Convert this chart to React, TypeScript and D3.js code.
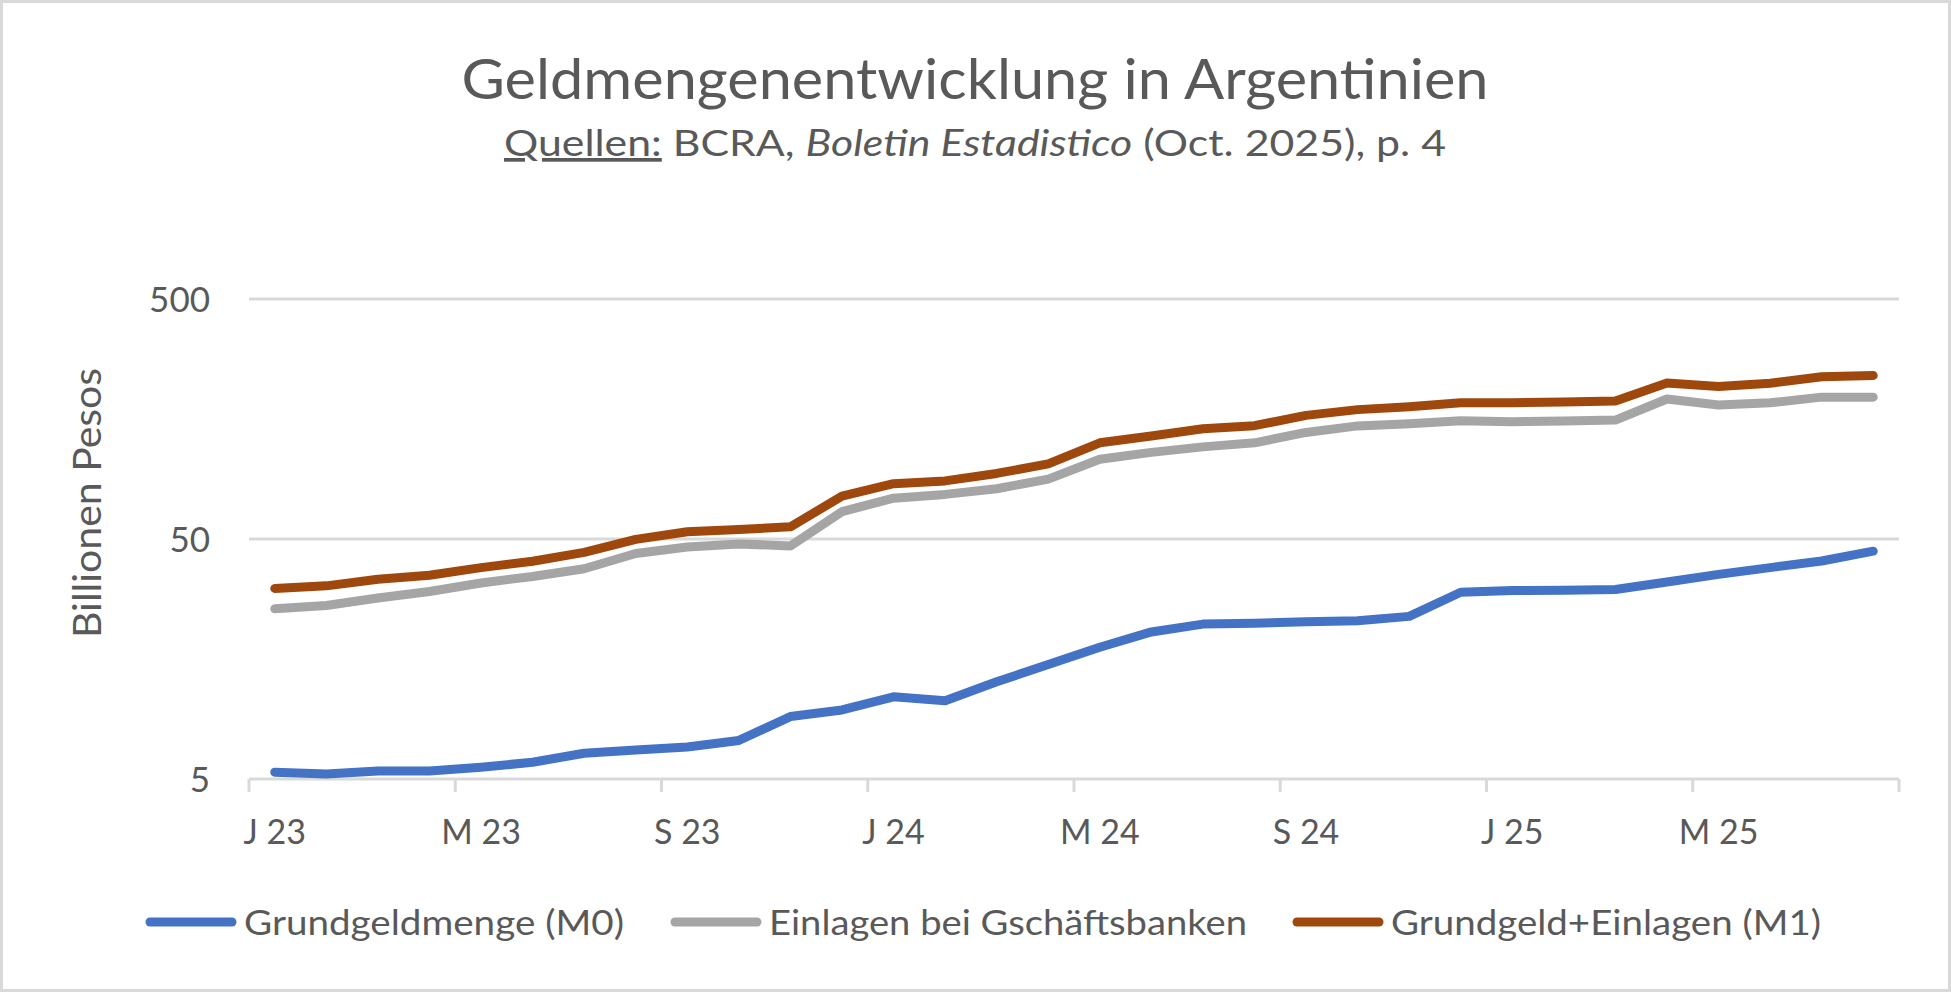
import { scaleBand, scaleLog, line } from "d3";

const months = [
  "2023-01", "2023-02", "2023-03", "2023-04", "2023-05", "2023-06", "2023-07", "2023-08",
  "2023-09", "2023-10", "2023-11", "2023-12", "2024-01", "2024-02", "2024-03", "2024-04",
  "2024-05", "2024-06", "2024-07", "2024-08", "2024-09", "2024-10", "2024-11", "2024-12",
  "2025-01", "2025-02", "2025-03", "2025-04", "2025-05", "2025-06", "2025-07", "2025-08",
];

// Billionen Pesos (log scale)
const baseMoney = [
  5.34, 5.25, 5.4, 5.4, 5.6, 5.87, 6.4, 6.6, 6.8, 7.24, 9.1, 9.7, 11.0, 10.6, 12.7, 15.0,
  17.7, 20.5, 22.1, 22.3, 22.6, 22.8, 23.8, 30.0, 30.5, 30.6, 30.8, 33.1, 35.6, 38.0, 40.5, 44.5,
];
const deposits = [
  25.6, 26.4, 28.4, 30.2, 32.8, 34.9, 37.6, 43.5, 46.3, 47.7, 46.8, 65, 74, 76.7, 81, 88.8,
  107.5, 114.8, 121, 125.8, 139, 148, 151, 155.5, 154, 155, 156.5, 191.6, 181, 184.7, 195, 195,
];
const m1 = [
  31.1, 31.9, 34.0, 35.3, 38.0, 40.4, 44.0, 49.8, 53.6, 54.8, 56.2, 75.4, 85, 87.3, 93.8, 102.8,
  125.8, 134.4, 144, 148.3, 163.7, 173, 178, 184.7, 184.7, 186.3, 188, 223.5, 216, 223, 237, 240,
];

const tickLabels = ["J 23", "M 23", "S 23", "J 24", "M 24", "S 24", "J 25", "M 25"];
const yTicks = [5, 50, 500];

const seriesNames = ["Grundgeldmenge (M0)", "Einlagen bei Gschäftsbanken", "Grundgeld+Einlagen (M1)"];
const seriesColors = ["#4472C4", "#A5A5A5", "#9E480E"];

const W = 1951;
const H = 992;
const FONT = "Lato, 'Open Sans', sans-serif";
const TEXT = "#595959";
const GRID = "#D9D9D9";

export default function App() {
  const x = scaleBand<string>().domain(months).range([249, 1899]).paddingInner(0).paddingOuter(0);
  const y = scaleLog().domain([5, 500]).range([779, 299]);
  const bw = x.bandwidth();

  const series = [baseMoney, deposits, m1];
  const path = line<number>()
    .x((_, i) => (x(months[i]) ?? 0) + bw / 2)
    .y((d) => y(d));

  const tickXs = tickLabels.map((_, k) => x(months[k * 4]) ?? 0).concat([x.range()[1]]);

  const legendSwatch = [150, 675, 1297];
  const legendText = [244, 769, 1391];
  const legendLen = [380, 478, 430];

  return (
    <svg
      width={W}
      height={H}
      style={{ position: "absolute", left: 0, top: 0, background: "#fff" }}
      fontFamily={FONT}
    >
      <rect x={1.5} y={1.5} width={W - 3} height={H - 3} fill="#fff" stroke={GRID} strokeWidth={3} />

      {/* Title */}
      <text x={975} y={99} textAnchor="middle" fontSize={56} fill={TEXT} textLength={1027} lengthAdjust="spacingAndGlyphs">
        Geldmengenentwicklung in Argentinien
      </text>
      <text x={975} y={156} textAnchor="middle" fontSize={37} fill={TEXT} textLength={942} lengthAdjust="spacingAndGlyphs">
        <tspan textDecoration="underline">Quellen:</tspan>
        <tspan> BCRA, </tspan>
        <tspan fontStyle="italic">Boletin Estadistico</tspan>
        <tspan> (Oct. 2025), p. 4</tspan>
      </text>

      {/* Gridlines */}
      {yTicks.map((t) => (
        <line key={t} x1={249} x2={1899} y1={y(t)} y2={y(t)} stroke={GRID} strokeWidth={3} />
      ))}
      {tickXs.map((tx, i) => (
        <line key={i} x1={tx} x2={tx} y1={y(5)} y2={y(5) + 13} stroke={GRID} strokeWidth={3} />
      ))}

      {/* Y labels */}
      {yTicks.map((t) => (
        <text key={t} x={210} y={y(t)} dy="0.36em" textAnchor="end" fontSize={35} fill={TEXT}>
          {t}
        </text>
      ))}
      <text
        transform="translate(101,503) rotate(-90)"
        textAnchor="middle"
        fontSize={38}
        fill={TEXT}
        textLength={270}
        lengthAdjust="spacingAndGlyphs"
      >
        Billionen Pesos
      </text>

      {/* X labels */}
      {tickLabels.map((lab, k) => (
        <text key={lab} x={(x(months[k * 4]) ?? 0) + bw / 2} y={844} textAnchor="middle" fontSize={34} fill={TEXT}>
          {lab}
        </text>
      ))}

      {/* Lines */}
      {series.map((s, i) => (
        <path
          key={i}
          d={path(s) ?? ""}
          fill="none"
          stroke={seriesColors[i]}
          strokeWidth={9}
          strokeLinecap="round"
          strokeLinejoin="round"
        />
      ))}

      {/* Legend */}
      {seriesNames.map((name, i) => (
        <g key={name}>
          <line
            x1={legendSwatch[i]}
            x2={legendSwatch[i] + 82}
            y1={922}
            y2={922}
            stroke={seriesColors[i]}
            strokeWidth={9}
            strokeLinecap="round"
          />
          <text
            x={legendText[i]}
            y={935}
            fontSize={35}
            fill={TEXT}
            textLength={legendLen[i]}
            lengthAdjust="spacingAndGlyphs"
          >
            {name}
          </text>
        </g>
      ))}
    </svg>
  );
}
